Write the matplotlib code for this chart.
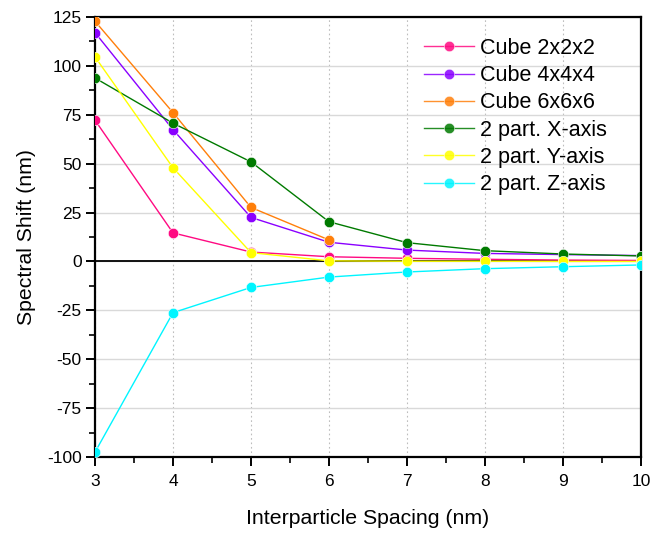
import matplotlib
matplotlib.use("Agg")
import matplotlib.pyplot as plt
from matplotlib.ticker import MultipleLocator

plt.rcParams['font.family'] = ['Liberation Sans', 'DejaVu Sans']
plt.rcParams['axes.unicode_minus'] = False

spacing = [3, 4, 5, 6, 7, 8, 9, 10]

cube2 = [72.2, 14.6, 4.8, 2.4, 1.6, 1.1, 0.7, 0.5]
cube4 = [117.0, 67.4, 22.5, 9.8, 5.8, 4.1, 3.5, 3.0]
cube6 = [122.8, 76.1, 27.6, 11.0]
xaxis = [93.8, 70.7, 50.9, 20.3, 9.6, 5.5, 3.8, 2.8]
yaxis = [104.6, 47.9, 4.5, 0.3, 0.1, 0.1, 0.0, 0.0]
zaxis = [-97.5, -26.2, -13.3, -8.0, -5.4, -3.7, -2.7, -1.8]

series = [
    ("Cube 2x2x2", cube2, "#ff0a82"),
    ("Cube 4x4x4", cube4, "#8a00ff"),
    ("Cube 6x6x6", cube6, "#ff7f0a"),
    ("2 part. X-axis", xaxis, "#007a00"),
    ("2 part. Y-axis", yaxis, "#ffff00"),
    ("2 part. Z-axis", zaxis, "#00f5ff"),
]

fig = plt.figure(figsize=(6.54, 5.34), dpi=100)
ax = fig.add_axes([0.1453, 0.1442, 0.8347, 0.8240])

for label, vals, color in series:
    ax.plot(spacing[:len(vals)], vals, color=color, lw=1.0, marker='o',
            markersize=7.5, markeredgecolor='white', markeredgewidth=0.4,
            label=label, zorder=3)

ax.axhline(0, color='black', lw=1.3, zorder=2)

ax.set_xlim(3, 10)
ax.set_ylim(-100, 125)
ax.xaxis.set_major_locator(MultipleLocator(1))
ax.xaxis.set_minor_locator(MultipleLocator(0.5))
ax.yaxis.set_major_locator(MultipleLocator(25))
ax.yaxis.set_minor_locator(MultipleLocator(12.5))

ax.grid(axis='y', which='major', color='#d9d9d9', lw=1.0, ls='-', zorder=0)
ax.grid(axis='x', which='major', color='#bdbdbd', lw=0.8, ls=(0, (1.5, 2.5)), zorder=0)
ax.set_axisbelow(True)

for s in ax.spines.values():
    s.set_linewidth(1.6)
    s.set_color('black')

ax.tick_params(which='major', direction='out', length=6.5, width=1.4,
               labelsize=12.5, colors='black', pad=3)
ax.tick_params(axis='x', which='major', pad=6)
ax.tick_params(which='minor', direction='out', length=4, width=1.2)

ax.set_xlabel("Interparticle Spacing (nm)", fontsize=15.3, labelpad=14)
ax.set_ylabel("Spectral Shift (nm)", fontsize=15.3, labelpad=8)

leg = ax.legend(loc='upper left', bbox_to_anchor=(0.595, 0.962), frameon=False,
                fontsize=15.5, handlelength=2.3, handletextpad=0.3,
                labelspacing=0.29, borderaxespad=0.0, borderpad=0.2,
                markerscale=1.0)
for h in leg.get_lines():
    h.set_alpha(0.85)

fig.savefig("out.png", dpi=100)
